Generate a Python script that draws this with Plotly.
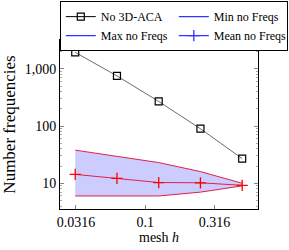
import plotly.graph_objects as go

h = [1/32, 1/16, 1/8, 1/4, 1/2]
no_aca = [1950, 755, 270, 90, 27]
max_freq = [38, 30, 23, 16, 10]
min_freq = [6, 6, 6, 7, 9]
mean_freq = [14.3, 12.2, 10.3, 10.2, 9.2]

xtick_vals = [10**-1.5, 0.1, 10**-0.5]
xtick_text = ["0.0316", "0.1", "0.316"]
ytick_vals = [10, 100, 1000]
ytick_text = ["10", "100", "1,000"]

FONT = "Liberation Serif"
RED = "#e0204a"
BLUE = "#3333ff"

fig = go.Figure()

# shaded band between min and max
fig.add_trace(go.Scatter(x=h + h[::-1], y=max_freq + min_freq[::-1], mode="lines",
                         fill="toself", fillcolor="#ccccff", showlegend=False,
                         line=dict(width=0, color="rgba(0,0,0,0)"), hoverinfo="skip"))
# data lines
fig.add_trace(go.Scatter(x=h, y=no_aca, mode="lines+markers", showlegend=False,
                         line=dict(color="#444444", width=0.8),
                         marker=dict(symbol="square-open", size=7, color="black",
                                     line=dict(width=1.2, color="black"))))
fig.add_trace(go.Scatter(x=h, y=min_freq, mode="lines", showlegend=False,
                         line=dict(color=RED, width=1)))
fig.add_trace(go.Scatter(x=h, y=max_freq, mode="lines", showlegend=False,
                         line=dict(color=RED, width=1)))
fig.add_trace(go.Scatter(x=h, y=mean_freq, mode="lines+markers", showlegend=False,
                         line=dict(color=RED, width=1),
                         marker=dict(symbol="cross-thin", size=8,
                                     line=dict(width=1.3, color="red"))))

# legend entries
fig.add_trace(go.Scatter(x=[None], y=[None], mode="lines+markers", name="No 3D-ACA",
                         line=dict(color="black", width=1),
                         marker=dict(symbol="square-open", size=7, color="black",
                                     line=dict(width=1.2, color="black"))))
fig.add_trace(go.Scatter(x=[None], y=[None], mode="lines", name="Min no Freqs",
                         line=dict(color=BLUE, width=1.2)))
fig.add_trace(go.Scatter(x=[None], y=[None], mode="lines", name="Max no Freqs",
                         line=dict(color=BLUE, width=1.2)))
fig.add_trace(go.Scatter(x=[None], y=[None], mode="lines+markers", name="Mean no Freqs",
                         line=dict(color=BLUE, width=1.2),
                         marker=dict(symbol="cross-thin", size=8,
                                     line=dict(width=1.3, color=BLUE))))

fig.update_layout(
    width=289, height=250,
    margin=dict(l=60, r=31, t=40, b=41, autoexpand=False),
    plot_bgcolor="white", paper_bgcolor="white",
    font=dict(family=FONT, size=14, color="black"),
    showlegend=True,
    legend=dict(orientation="h", x=-0.001, xanchor="left", y=1.23, yanchor="top",
                traceorder="normal",
                bgcolor="white", bordercolor="black", borderwidth=1,
                font=dict(family=FONT, size=12),
                entrywidth=68, entrywidthmode="pixels",
                itemwidth=30, tracegroupgap=0),
    annotations=[dict(text="mesh <i>h</i>", xref="paper", yref="paper",
                      x=0.5, y=-0.168, xanchor="center", yanchor="middle",
                      showarrow=False, font=dict(family=FONT, size=14))],
)

fig.update_xaxes(type="log", range=[-1.615, -0.187],
                 tickvals=xtick_vals, ticktext=xtick_text,
                 ticks="inside", ticklen=4, tickcolor="#888888",
                 showline=True, linecolor="black", linewidth=1, mirror="ticks",
                 showgrid=False, zeroline=False)
fig.update_yaxes(type="log", range=[0.55, 3.506],
                 tickvals=ytick_vals, ticktext=ytick_text,
                 ticks="inside", ticklen=4, tickcolor="#888888",
                 minor=dict(ticks="inside", ticklen=2, dtick="D1", tickcolor="#aaaaaa", showgrid=False),
                 showline=True, linecolor="black", linewidth=1, mirror="ticks",
                 showgrid=False, zeroline=False,
                 title=dict(text="Number frequencies", standoff=6))

fig.write_html("out.html", config={"displayModeBar": False},
               post_script="document.body.style.margin='0';document.body.style.padding='0';")
